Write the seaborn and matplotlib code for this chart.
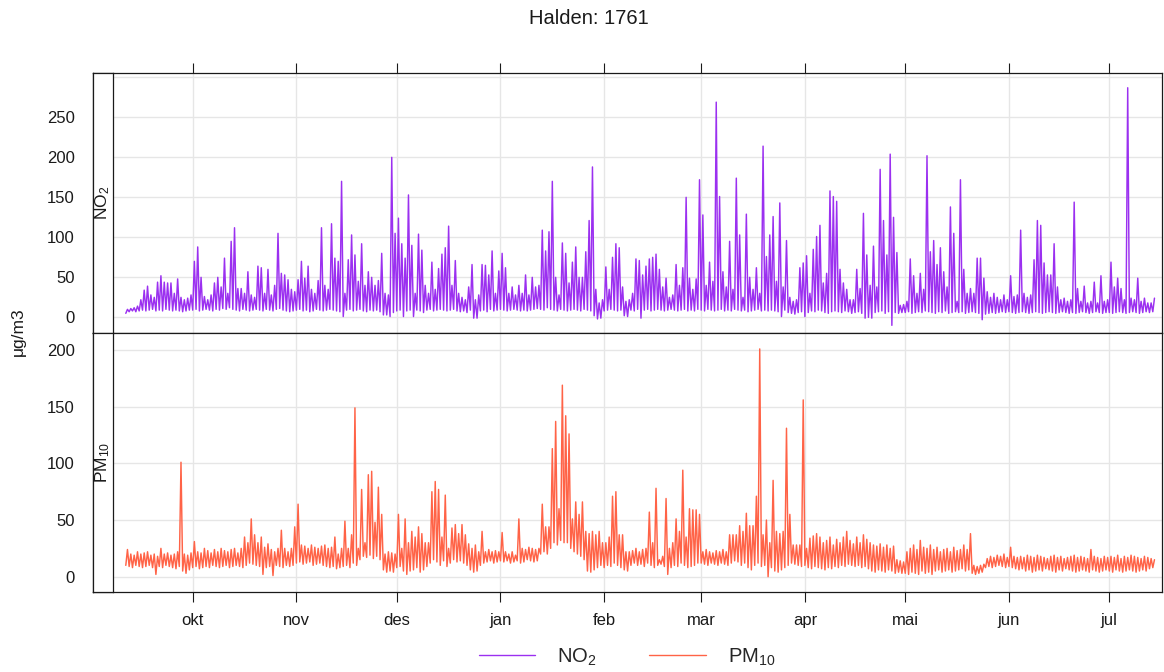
import numpy as np
import pandas as pd
import matplotlib
matplotlib.use("Agg")
import matplotlib.pyplot as plt
from matplotlib.lines import Line2D
import seaborn as sns

# ---------------------------------------------------------------------------
# Halden station 1761, measurements 11 Sep 2023 - 14 Jul 2024 (µg/m3)
# Each day is stored as its low and its high value.
# ---------------------------------------------------------------------------
start_date = "2023-09-11"

no2_high = [
    10, 11, 12, 14, 22, 34, 39, 28, 25, 44, 52, 44, 43, 43, 30, 48, 25, 22, 24, 28,                    # sep
    70, 88, 50, 26, 22, 28, 43, 50, 38, 74, 30, 95, 112, 36, 36, 30, 57, 28, 25, 64, 62, 30, 60, 28,
    40, 105, 55, 53, 47, 35, 32,                                                                       # okt
    47, 70, 49, 64, 35, 30, 46, 112, 40, 35, 117, 74, 70, 170, 30, 72, 103, 78, 45, 92, 40, 57, 50, 40,
    46, 80, 30, 28, 200, 105,                                                                          # nov
    124, 92, 74, 153, 90, 30, 104, 84, 40, 30, 69, 35, 61, 79, 87, 114, 40, 71, 30, 25, 22, 38, 66, 22,
    28, 66, 65, 53, 83, 30, 58,                                                                        # des
    80, 62, 30, 38, 28, 40, 30, 53, 28, 50, 38, 40, 109, 83, 107, 170, 50, 28, 93, 80, 43, 69, 88, 50,
    50, 82, 121, 188, 35, 18, 22,                                                                      # jan
    63, 35, 75, 92, 87, 38, 20, 22, 30, 73, 71, 53, 64, 73, 75, 79, 60, 38, 49, 25, 28, 66, 40, 62,
    150, 49, 35, 48, 172,                                                                              # feb
    128, 40, 69, 45, 269, 151, 57, 38, 95, 35, 174, 103, 25, 129, 50, 35, 62, 30, 214, 76, 103, 126,
    45, 143, 38, 96, 25, 20, 22, 62, 68,                                                               # mar
    77, 30, 85, 101, 115, 43, 55, 158, 151, 145, 60, 43, 35, 22, 22, 60, 36, 130, 78, 40, 89, 38, 185,
    121, 78, 204, 125, 81, 15, 16,                                                                     # apr
    20, 73, 52, 30, 55, 35, 202, 82, 96, 66, 87, 57, 38, 138, 105, 20, 172, 60, 30, 36, 30, 74, 74, 49,
    32, 25, 30, 25, 22, 28, 22,                                                                        # mai
    52, 26, 28, 109, 30, 25, 28, 72, 121, 115, 68, 53, 53, 92, 38, 22, 24, 20, 22, 144, 36, 20, 39, 18,
    20, 44, 18, 52, 20, 22,                                                                            # jun
    69, 38, 49, 36, 22, 287, 24, 22, 49, 20, 24, 18, 18, 24,                                           # jul
]

no2_low = [
    5, 7, 8, 7, 8, 9, 8, 9, 10, 8, 9, 8, 10, 9, 8, 9, 8, 7, 8, 9,
    9, 10, 8, 9, 10, 9, 8, 10, 9, 11, 10, 12, 10, 9, 8, 10, 9, 8, 9, 10, 9, 8, 10, 9, 8, 10, 11, 9, 8, 7, 8,
    9, 10, 8, 9, 7, 8, 10, 9, 8, 9, 10, 9, 8, 7, 1, 9, 10, 8, 9, 10, 8, 7, 9, 8, 9, 7, 3, 3, 1, 6,
    8, 9, 1, 8, 9, 1, 9, 8, 6, 9, 10, 8, 9, 10, 9, 8, 9, 10, 8, 7, 8, 6, 9, -1, -1, 8, 9, 7, 10, 8, 9,
    10, 9, 8, 9, 10, 9, 8, 9, 8, 9, 10, 11, 10, 9, 12, 10, 9, 8, 10, 9, 8, 9, 10, 9, 8, 10, 9, 8, 2, -2, -1,
    8, 9, 10, 9, 8, 9, 2, 1, 9, 8, 10, -1, 9, 10, 8, 9, 10, 9, 8, 9, 10, 9, 8, 9, 10, 8, 9, 8, 10,
    9, 8, 10, 9, 8, 9, 10, 8, 9, 8, 10, 9, 8, 9, 7, 8, 9, 10, 8, 9, 8, 9, 8, 7, 1, 9, 6, 5, 4, 6, 7,
    1, 6, 8, 7, 9, 8, 6, 5, 7, 8, 7, 6, 8, 7, 5, 6, 7, 5, -1, 0, -1, 6, 7, 8, 5, 7, -10, 6, 5, 6,
    6, 7, 5, 6, 7, 6, 8, 7, 6, 5, 7, 6, 8, 5, 6, 7, 6, 7, 5, 6, 7, 6, 5, -3, 4, 5, 6, 5, 6, 7, 6,
    7, 6, 5, 6, 7, 6, 5, 6, 7, 6, 5, 6, 7, 6, 5, 6, 7, 6, 5, 6, 5, 6, 7, 6, 5, 6, 7, 6, 5, 6,
    6, 5, 6, 7, 6, 5, 6, 7, 6, 5, 6, 7, 6, 7,
]

pm10_high = [
    24, 20, 19, 22, 20, 21, 22, 19, 20, 18, 25, 20, 21, 19, 20, 22, 101, 20, 19, 21,
    31, 22, 21, 25, 23, 21, 24, 22, 25, 23, 22, 24, 25, 21, 25, 35, 30, 51, 37, 30, 35, 26, 29, 24, 22,
    25, 41, 25, 22, 25, 44,
    64, 28, 27, 25, 28, 26, 25, 27, 28, 25, 26, 35, 20, 25, 49, 25, 37, 149, 25, 77, 30, 90, 93, 48, 79,
    55, 20, 22, 21, 20,
    55, 25, 51, 30, 40, 35, 44, 38, 30, 30, 75, 84, 77, 35, 72, 25, 43, 46, 38, 46, 37, 29, 25, 28, 22,
    40, 22, 24, 22, 23, 22,
    39, 22, 20, 22, 19, 51, 25, 24, 26, 25, 24, 25, 64, 44, 44, 113, 137, 60, 169, 142, 126, 51, 66, 55,
    66, 40, 38, 40, 37, 40, 30,
    30, 35, 71, 75, 37, 37, 22, 22, 23, 25, 22, 24, 25, 57, 30, 78, 15, 18, 69, 25, 30, 51, 40, 94, 35,
    60, 59, 59, 55,
    22, 24, 22, 21, 23, 22, 24, 22, 37, 37, 37, 45, 40, 56, 45, 45, 71, 201, 37, 50, 30, 85, 40, 38, 40,
    131, 55, 28, 28, 28, 156,
    25, 34, 36, 38, 35, 30, 32, 35, 28, 33, 30, 35, 40, 32, 29, 35, 30, 37, 33, 30, 28, 27, 29, 26, 28,
    25, 27, 15, 14, 13,
    22, 25, 28, 24, 32, 26, 25, 28, 24, 26, 22, 24, 25, 22, 26, 23, 24, 28, 24, 38, 10, 9, 10, 11, 16,
    18, 17, 19, 18, 20, 17,
    26, 18, 17, 18, 17, 19, 18, 17, 19, 18, 17, 16, 18, 19, 17, 18, 16, 17, 18, 19, 17, 18, 17, 16, 24,
    18, 17, 16, 18, 17,
    18, 17, 19, 16, 18, 17, 19, 18, 17, 16, 18, 17, 16, 15,
]

pm10_low = [
    10, 9, 8, 10, 9, 8, 9, 10, 8, 2, 9, 8, 10, 9, 8, 7, 9, 5, 3, 6,
    8, 9, 7, 8, 9, 8, 10, 9, 8, 9, 10, 8, 9, 10, 9, 8, 10, 12, 11, 10, 9, 2, 8, 9, 1, 10, 9, 8, 10, 9, 10,
    12, 13, 11, 12, 13, 10, 11, 12, 10, 9, 8, 9, 7, 8, 9, 10, 8, 12, 10, 15, 18, 17, 19, 16, 18, 15, 6, 4, 5, 4,
    8, 9, 5, 2, 5, 6, 8, 4, 6, 9, 12, 15, 13, 10, 14, 9, 12, 15, 13, 14, 12, 10, 6, 4, 5, 10, 12, 13, 14, 12, 13,
    14, 13, 14, 12, 13, 14, 12, 13, 15, 14, 13, 14, 20, 22, 20, 25, 30, 28, 32, 30, 30, 25, 22, 20, 18, 15, 5, 4, 6, 8, 10,
    8, 10, 9, 12, 10, 8, 6, 5, 10, 12, 10, 11, 9, 12, 10, 8, 10, 11, 9, 2, 8, 10, 9, 12, 10, 8, 9, 10, 12,
    12, 11, 10, 12, 11, 10, 12, 11, 10, 12, 14, 13, 10, 12, 8, 6, 10, 12, 9, 10, 0, 8, 5, 4, 6, 8, 10, 12, 11, 10, 9,
    10, 8, 7, 9, 8, 7, 6, 8, 7, 9, 8, 10, 9, 11, 10, 9, 10, 8, 9, 7, 5, 4, 6, 5, 4, 6, 5, 3, 4, 3,
    3, 2, 4, 3, 2, 5, 3, 4, 2, 5, 6, 4, 5, 6, 4, 5, 6, 7, 5, 6, 3, 2, 3, 4, 8, 9, 8, 9, 10, 9, 8,
    9, 8, 7, 6, 7, 5, 6, 4, 5, 6, 5, 7, 6, 5, 4, 6, 5, 7, 6, 5, 4, 5, 6, 5, 4, 6, 5, 4, 5, 6,
    5, 4, 6, 5, 4, 5, 6, 5, 4, 5, 6, 5, 7, 8,
]

month_ticks = ["2023-10-01", "2023-11-01", "2023-12-01", "2024-01-01", "2024-02-01",
               "2024-03-01", "2024-04-01", "2024-05-01", "2024-06-01", "2024-07-01"]
month_labels = ["okt", "nov", "des", "jan", "feb", "mar", "apr", "mai", "jun", "jul"]

no2_yticks = [0, 50, 100, 150, 200, 250, 300]
no2_yticklabels = ["0", "50", "100", "150", "200", "250", ""]
pm10_yticks = [0, 50, 100, 150, 200]

title = "Halden: 1761"
ylabel = "μg/m3"
NO2_COLOR = "#9b30f0"
PM10_COLOR = "#ff6347"

for seq in (no2_low, pm10_high, pm10_low):
    assert len(seq) == len(no2_high)


def half_daily(lows, highs):
    """Interleave each day's low (00:00) and high (12:00) into one series."""
    vals = np.empty(2 * len(lows))
    vals[0::2] = lows
    vals[1::2] = highs
    times = pd.date_range(start_date, periods=len(vals), freq="12h")
    return pd.DataFrame({"date": times, "value": vals})


no2_df = half_daily(no2_low, no2_high)
pm10_df = half_daily(pm10_low, pm10_high)

sns.set_style("white")
plt.rcParams["font.family"] = ["Liberation Sans", "DejaVu Sans"]
plt.rcParams["mathtext.fontset"] = "custom"
plt.rcParams["mathtext.rm"] = "Liberation Sans"
plt.rcParams["mathtext.it"] = "Liberation Sans"
plt.rcParams["mathtext.default"] = "regular"

W, H = 1164, 672
fig = plt.figure(figsize=(W / 100, H / 100), dpi=100)


def rect(x0, y0, x1, y1):
    return [x0 / W, 1 - y1 / H, (x1 - x0) / W, (y1 - y0) / H]


BOX_L, BOX_R, STRIP_R = 92.7, 1162.0, 112.7
TOP, MID, BOT = 72.7, 332.7, 592.0

ax_top = fig.add_axes(rect(BOX_L, TOP, BOX_R, MID))
ax_bot = fig.add_axes(rect(BOX_L, MID, BOX_R, BOT))

sns.lineplot(data=no2_df, x="date", y="value", ax=ax_top, color=NO2_COLOR,
             linewidth=1.05, estimator=None, legend=False)
sns.lineplot(data=pm10_df, x="date", y="value", ax=ax_bot, color=PM10_COLOR,
             linewidth=1.05, estimator=None, legend=False)

# horizontal extent: 3.3453 px per day, 1 Oct at x = 192.7
oct1 = pd.Timestamp("2023-10-01")
px_per_day = 3.3453
x_left = oct1 - pd.Timedelta(days=(192.7 - BOX_L) / px_per_day)
x_right = oct1 + pd.Timedelta(days=(BOX_R - 192.7) / px_per_day)
tick_dates = pd.to_datetime(month_ticks)

for ax in (ax_top, ax_bot):
    ax.set_xlim(x_left, x_right)
    ax.set_xticks(tick_dates)
    ax.set_xlabel("")
    ax.set_ylabel("")
    ax.set_axisbelow(True)
    ax.grid(True, color="#e6e6e6", linewidth=1.0)
    for sp in ax.spines.values():
        sp.set_color("#1a1a1a")
        sp.set_linewidth(0.9)
    ax.tick_params(axis="both", direction="out", length=7, width=0.8,
                   color="#1a1a1a", labelsize=12, labelcolor="#1a1a1a", pad=6)

ax_top.set_ylim(-19.2, 305.8)
ax_top.set_yticks(no2_yticks)
ax_top.set_yticklabels(no2_yticklabels)
ax_top.tick_params(axis="x", top=True, bottom=False, labeltop=False, labelbottom=False)

ax_bot.set_ylim(-13.5, 215.3)
ax_bot.set_yticks(pm10_yticks)
ax_bot.set_xticklabels(month_labels)
ax_bot.tick_params(axis="x", top=False, bottom=True, labelbottom=True, pad=8)

# strips on the left of each panel
for (y0, y1, lab) in ((TOP, MID, r"NO$_2$"), (MID, BOT, r"PM$_{10}$")):
    sax = fig.add_axes(rect(BOX_L, y0, STRIP_R, y1))
    sax.set_facecolor("white")
    sax.set_xticks([])
    sax.set_yticks([])
    for sp in sax.spines.values():
        sp.set_color("#1a1a1a")
        sp.set_linewidth(0.9)
    sax.text(0.5, 0.5, lab, rotation=90, ha="center", va="center",
             fontsize=12.5, color="#1a1a1a", transform=sax.transAxes)

fig.text(589 / W, 1 - 18 / H, title, ha="center", va="center", fontsize=14.5, color="#1a1a1a")
fig.text(18 / W, 1 - 332 / H, ylabel, ha="center", va="center", rotation=90,
         fontsize=12.5, color="#1a1a1a")

handles = [Line2D([], [], color=NO2_COLOR, linewidth=1.0),
           Line2D([], [], color=PM10_COLOR, linewidth=1.0)]
fig.legend(handles, [r"NO$_2$", r"PM$_{10}$"], loc="center",
           bbox_to_anchor=(627 / W, 1 - 657 / H), ncol=2, frameon=False,
           fontsize=14.5, handlelength=2.8, handletextpad=1.1, columnspacing=2.6)

fig.savefig("out.png", dpi=100)
